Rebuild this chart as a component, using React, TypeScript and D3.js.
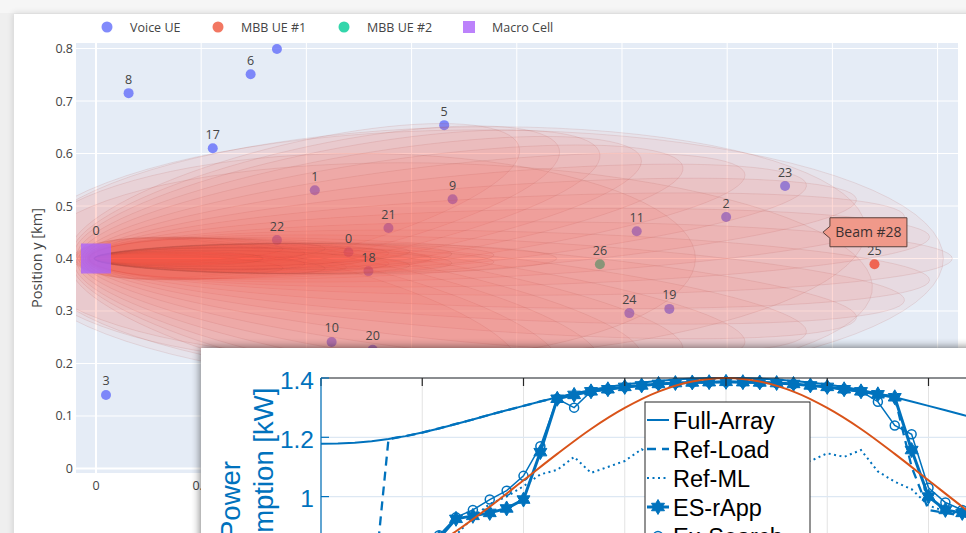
import React from 'react';
import * as d3 from 'd3';

const W = 966;
const H = 533;

// ---------- upper chart (UE positions, km) ----------
const voiceIds = ['8', '6', '4', '17', '1', '5', '9', '21', '22', '0', '18', '11', '2', '23', '24', '19', '10', '20', '3'];
const voiceX = [0.031, 0.147, 0.172, 0.111, 0.208, 0.331, 0.339, 0.278, 0.172, 0.24, 0.259, 0.514, 0.599, 0.655, 0.507, 0.545, 0.224, 0.263, 0.0095];
const voiceY = [0.715, 0.751, 0.799, 0.61, 0.53, 0.654, 0.513, 0.458, 0.435, 0.412, 0.376, 0.452, 0.479, 0.538, 0.296, 0.304, 0.241, 0.226, 0.14];
const mbb1Ids = ['25'];
const mbb1X = [0.74];
const mbb1Y = [0.389];
const mbb2Ids = ['26'];
const mbb2X = [0.479];
const mbb2Y = [0.389];
const cellIds = ['0'];
const cellX = [0];
const cellY = [0.4];

const xTicks = [0, 0.1, 0.2, 0.3, 0.4, 0.5, 0.6, 0.7, 0.8];
const yTicks = [0, 0.1, 0.2, 0.3, 0.4, 0.5, 0.6, 0.7, 0.8];
const legendNames = ['Voice UE', 'MBB UE #1', 'MBB UE #2', 'Macro Cell'];

// beams: steering angle (deg), semi-major and semi-minor axis (km), cell at focus
const beamAngle = [30, 27, 24, 21, 18, 15, 12, 9, 6, 3, 0, -3, -6, -9, -12, -15, -18, -21, -24, -27, -30,
  0, 5, -5, 0,
  0, 2, -2, 4, -4, 1, -1, 0, 3, -3, 6, -6, 0, 1.5, -1.5, 5, -5, 0, 2.5, -2.5];
const beamMajor = [0.24, 0.255, 0.27, 0.285, 0.3, 0.325, 0.35, 0.37, 0.39, 0.4, 0.41, 0.4, 0.39, 0.37, 0.35, 0.325, 0.3, 0.285, 0.27, 0.255, 0.24,
  0.44, 0.4, 0.4, 0.32,
  0.16, 0.14, 0.14, 0.12, 0.12, 0.19, 0.19, 0.22, 0.1, 0.1, 0.09, 0.09, 0.13, 0.17, 0.17, 0.11, 0.11, 0.08, 0.15, 0.15];
const beamMinor = [0.1, 0.1, 0.1, 0.097, 0.093, 0.088, 0.083, 0.078, 0.075, 0.072, 0.07, 0.072, 0.075, 0.078, 0.083, 0.088, 0.093, 0.097, 0.1, 0.1, 0.1,
  0.245, 0.22, 0.21, 0.2,
  0.022, 0.02, 0.02, 0.018, 0.018, 0.025, 0.025, 0.03, 0.016, 0.016, 0.015, 0.015, 0.02, 0.024, 0.024, 0.017, 0.017, 0.014, 0.021, 0.021];
const hoverText = 'Beam #28';
const hoverX = 0.691;
const hoverY = 0.45;

// ---------- lower chart (power over the day) ----------
const halfHours = [0, 0.5, 1, 1.5, 2, 2.5, 3, 3.5, 4, 4.5, 5, 5.5, 6, 6.5, 7, 7.5, 8, 8.5, 9, 9.5, 10, 10.5, 11, 11.5, 12,
  12.5, 13, 13.5, 14, 14.5, 15, 15.5, 16, 16.5, 17, 17.5, 18, 18.5, 19, 19.5, 20, 20.5, 21, 21.5, 22, 22.5, 23, 23.5, 24];
const fullArray = [1.178, 1.179, 1.182, 1.187, 1.194, 1.204, 1.216, 1.23, 1.245, 1.26, 1.276, 1.291, 1.306, 1.321, 1.335, 1.348, 1.36, 1.37, 1.378, 1.385, 1.39, 1.395, 1.398, 1.4, 1.4,
  1.4, 1.398, 1.395, 1.39, 1.385, 1.378, 1.37, 1.36, 1.348, 1.335, 1.321, 1.306, 1.291, 1.276, 1.26, 1.245, 1.23, 1.216, 1.204, 1.194, 1.187, 1.182, 1.179, 1.178];
const refLoad = [0.62, 0.62, 0.62, 0.62, 1.194, 1.204, 1.216, 1.23, 1.245, 1.26, 1.276, 1.291, 1.306, 1.321, 1.335, 1.345, 1.355, 1.362, 1.37, 1.375, 1.38, 1.383, 1.385, 1.386, 1.387,
  1.386, 1.385, 1.383, 1.38, 1.375, 1.37, 1.362, 1.355, 1.345, 1.335, 1.1, 0.955, 0.945, 0.935, 0.92, 0.88, 0.8, 0.72, 0.66, 0.63, 0.62, 0.62, 0.62, 0.62];
const refML = [0.62, 0.62, 0.62, 0.62, 0.63, 0.66, 0.72, 0.8, 0.87, 0.93, 0.975, 1.0, 1.035, 1.075, 1.09, 1.134, 1.08, 1.1, 1.12, 1.16, 1.12, 1.13, 1.14, 1.12, 1.13,
  1.145, 1.12, 1.13, 1.11, 1.12, 1.146, 1.134, 1.157, 1.085, 1.05, 1.025, 0.97, 0.95, 0.94, 0.93, 0.9, 0.85, 0.78, 0.7, 0.66, 0.63, 0.62, 0.62, 0.62];
const esRApp = [0.62, 0.62, 0.62, 0.62, 0.63, 0.66, 0.74, 0.86, 0.925, 0.935, 0.945, 0.96, 0.99, 1.15, 1.33, 1.343, 1.355, 1.362, 1.37, 1.375, 1.38, 1.383, 1.385, 1.386, 1.387,
  1.386, 1.385, 1.383, 1.38, 1.375, 1.37, 1.362, 1.355, 1.345, 1.335, 1.157, 1.0, 0.955, 0.945, 0.935, 0.92, 0.88, 0.8, 0.72, 0.66, 0.63, 0.62, 0.62, 0.62];
const exSearch = [0.62, 0.62, 0.62, 0.62, 0.63, 0.66, 0.74, 0.87, 0.93, 0.955, 0.99, 1.02, 1.07, 1.17, 1.33, 1.3, 1.355, 1.362, 1.37, 1.375, 1.38, 1.383, 1.385, 1.386, 1.387,
  1.386, 1.385, 1.383, 1.38, 1.375, 1.37, 1.362, 1.355, 1.32, 1.24, 1.21, 1.03, 0.98, 0.955, 0.94, 0.92, 0.88, 0.8, 0.72, 0.66, 0.63, 0.62, 0.62, 0.62];
const hours = [0, 1, 2, 3, 4, 5, 6, 7, 8, 9, 10, 11, 12, 13, 14, 15, 16, 17, 18, 19, 20, 21, 22, 23, 24];
const traffic = [0.71, 0.722, 0.756, 0.811, 0.883, 0.966, 1.055, 1.144, 1.228, 1.299, 1.354, 1.388, 1.4,
  1.388, 1.354, 1.299, 1.228, 1.144, 1.055, 0.966, 0.883, 0.811, 0.756, 0.722, 0.71];
const hourTicks = [0, 3, 6, 9, 12, 15, 18, 21, 24];
const powerTicks = [1.4, 1.2, 1, 0.8];
const seriesNames = ['Full-Array', 'Ref-Load', 'Ref-ML', 'ES-rApp', 'Ex-Search'];

const BLUE = '#0072BD';
const ORANGE = '#D95319';
const PLOTLY_FONT = '"Open Sans", verdana, arial, sans-serif';
const MATLAB_FONT = '"Liberation Sans", Arial, Helvetica, sans-serif';

const hexagram: d3.SymbolType = {
  draw(ctx, size) {
    const r = Math.sqrt(size);
    const ri = r / Math.sqrt(3);
    for (let k = 0; k < 12; k++) {
      const a = -Math.PI / 2 + (k * Math.PI) / 6;
      const rr = k % 2 === 0 ? r : ri;
      if (k === 0) ctx.moveTo(rr * Math.cos(a), rr * Math.sin(a));
      else ctx.lineTo(rr * Math.cos(a), rr * Math.sin(a));
    }
    ctx.closePath();
  },
};

export default function App() {
  // upper chart scales
  const x = d3.scaleLinear().domain([-0.019, 0.8194]).range([76, 958]);
  const y = d3.scaleLinear().domain([-0.0086, 0.8105]).range([473, 43]);

  const beamPath = (i: number) => {
    const th = (beamAngle[i] * Math.PI) / 180;
    const a = beamMajor[i];
    const b = beamMinor[i];
    const c = Math.sqrt(a * a - b * b);
    const pts = d3.range(0, 360, 4).map((deg) => {
      const u = (deg * Math.PI) / 180;
      const ex = c + a * Math.cos(u);
      const ey = b * Math.sin(u);
      return [cellX[0] + ex * Math.cos(th) - ey * Math.sin(th), cellY[0] + ex * Math.sin(th) + ey * Math.cos(th)] as [number, number];
    });
    return d3.line<[number, number]>().x((p) => x(p[0])).y((p) => y(p[1])).curve(d3.curveLinearClosed)(pts) || '';
  };

  // lower chart scales
  const tx = d3.scaleLinear().domain([0, 24]).range([321, 1131]);
  const py = d3.scaleLinear().domain([0.6, 1.4]).range([615.2, 378]);
  const powerLine = (vals: number[], ts: number[], curve = d3.curveLinear) =>
    d3.line<number>().x((_, i) => tx(ts[i])).y((v) => py(v)).curve(curve)(vals) || '';
  const star = d3.symbol().type(hexagram).size(56)() || '';

  const hx = x(hoverX);
  const hy = y(hoverY);
  const hoverShape = `M${hx},${hy} L${hx + 7},${hy - 6} V${hy - 14.5} H${hx + 84} V${hy + 14.5} H${hx + 7} V${hy + 6} Z`;

  const legendX = [107, 218, 344, 469];
  const legendColors = ['#636efa', '#EF553B', '#00cc96', '#ab63fa'];
  const mLegY = [420, 449, 478, 507, 536];

  // labels that would sit above the plot area are clipped away, as in plotly
  const labelVisible = (py0: number) => py0 - 20 > 43;

  return (
    <svg width={W} height={H} style={{ position: 'fixed', left: 0, top: 0 }}>
      <defs>
        <clipPath id="plotArea">
          <rect x={76} y={43} width={882} height={430} />
        </clipPath>
        <clipPath id="matBox">
          <rect x={201} y={348} width={W - 201} height={H - 348} />
        </clipPath>
        <clipPath id="matAxes">
          <rect x={321} y={372} width={W - 321} height={H - 372} />
        </clipPath>
        <filter id="cardShadow" x="-10%" y="-10%" width="120%" height="120%">
          <feGaussianBlur stdDeviation={3} />
        </filter>
        <filter id="boxShadow" x="-20%" y="-40%" width="140%" height="180%">
          <feGaussianBlur stdDeviation={5} />
        </filter>
      </defs>

      {/* page + card */}
      <rect x={0} y={0} width={W} height={H} fill="#efefef" />
      <rect x={0} y={0} width={W} height={13} fill="#f6f6f6" />
      <rect x={13} y={13} width={W} height={H} fill="#000" opacity={0.12} filter="url(#cardShadow)" />
      <rect x={14} y={14} width={W} height={H} fill="#fff" />

      {/* plotly plot area */}
      <rect x={76} y={43} width={882} height={430} fill="#e5ecf6" />
      {xTicks.map((t) => (
        <line key={'gx' + t} x1={x(t)} x2={x(t)} y1={43} y2={473} stroke="#fff" strokeWidth={t === 0 ? 2 : 1} />
      ))}
      {yTicks.map((t) => (
        <line key={'gy' + t} x1={76} x2={958} y1={y(t)} y2={y(t)} stroke="#fff" strokeWidth={t === 0 ? 2 : 1} />
      ))}
      {yTicks.map((t) => (
        <text key={'ty' + t} x={73} y={y(t) + 4.5} textAnchor="end" fontFamily={PLOTLY_FONT} fontSize={12.5} fill="#444">
          {String(t)}
        </text>
      ))}
      {xTicks
        .filter((t) => x(t) - 8 < 201)
        .map((t) => (
          <text key={'tx' + t} x={x(t)} y={490} textAnchor="middle" fontFamily={PLOTLY_FONT} fontSize={12.5} fill="#444">
            {String(t)}
          </text>
        ))}
      <text transform={`translate(42,${(43 + 473) / 2}) rotate(-90)`} textAnchor="middle" fontFamily={PLOTLY_FONT} fontSize={14.5} fill="#444">
        Position y [km]
      </text>

      {/* legend */}
      {legendNames.map((n, i) => (
        <g key={n}>
          {i < 3 ? (
            <circle cx={legendX[i]} cy={27} r={5.5} fill={legendColors[i]} opacity={0.8} />
          ) : (
            <rect x={legendX[i] - 6} y={21} width={12} height={12} fill={legendColors[i]} opacity={0.8} />
          )}
          <text x={legendX[i] + 23} y={31.5} fontFamily={PLOTLY_FONT} fontSize={12.5} fill="#444">
            {n}
          </text>
        </g>
      ))}

      <g clipPath="url(#plotArea)">
        {/* markers */}
        {voiceX.map((v, i) => (
          <circle key={'v' + i} cx={x(v)} cy={y(voiceY[i])} r={5} fill="#636efa" opacity={0.8} />
        ))}
        {mbb1X.map((v, i) => (
          <circle key={'m1' + i} cx={x(v)} cy={y(mbb1Y[i])} r={5} fill="#EF553B" opacity={0.85} />
        ))}
        {mbb2X.map((v, i) => (
          <circle key={'m2' + i} cx={x(v)} cy={y(mbb2Y[i])} r={5} fill="#00cc96" opacity={0.8} />
        ))}

        {/* beams */}
        {beamAngle.map((_, i) => (
          <path key={'b' + i} d={beamPath(i)} fill="#ff5a45" fillOpacity={0.06} stroke="#b04a44" strokeOpacity={0.17} strokeWidth={0.8} />
        ))}

        {/* macro cell on top of the beams */}
        {cellX.map((v, i) => (
          <rect key={'c' + i} x={x(v) - 15} y={y(cellY[i]) - 15} width={30} height={30} fill="#ab63fa" opacity={0.8} />
        ))}

        {/* labels */}
        {voiceIds.map((id, i) =>
          labelVisible(y(voiceY[i])) ? (
            <text key={'lv' + i} x={x(voiceX[i])} y={y(voiceY[i]) - 9.5} textAnchor="middle" fontFamily={PLOTLY_FONT} fontSize={12.5} fill="#444">
              {id}
            </text>
          ) : null
        )}
        {mbb1Ids.map((id, i) => (
          <text key={'l1' + i} x={x(mbb1X[i])} y={y(mbb1Y[i]) - 9.5} textAnchor="middle" fontFamily={PLOTLY_FONT} fontSize={12.5} fill="#444">
            {id}
          </text>
        ))}
        {mbb2Ids.map((id, i) => (
          <text key={'l2' + i} x={x(mbb2X[i])} y={y(mbb2Y[i]) - 9.5} textAnchor="middle" fontFamily={PLOTLY_FONT} fontSize={12.5} fill="#444">
            {id}
          </text>
        ))}
        {cellIds.map((id, i) => (
          <text key={'lc' + i} x={x(cellX[i])} y={y(cellY[i]) - 23} textAnchor="middle" fontFamily={PLOTLY_FONT} fontSize={12.5} fill="#444">
            {id}
          </text>
        ))}
      </g>

      {/* hover label */}
      <path d={hoverShape} fill="#f0998a" stroke="#5a403c" strokeWidth={1} />
      <text x={hx + 45.5} y={hy + 5} textAnchor="middle" fontFamily={PLOTLY_FONT} fontSize={14} fill="#3c3030">
        {hoverText}
      </text>

      {/* ---------- overlaid MATLAB figure ---------- */}
      <rect x={201} y={348} width={900} height={300} fill="#000" opacity={0.6} filter="url(#boxShadow)" />
      <rect x={201} y={348} width={900} height={300} fill="#fff" />
      <g clipPath="url(#matBox)">
        {hourTicks.map((t) => (
          <line key={'mgx' + t} x1={tx(t)} x2={tx(t)} y1={378} y2={H} stroke="#e3e3e3" strokeWidth={1} />
        ))}
        {powerTicks.map((t) => (
          <line key={'mgy' + t} x1={321} x2={W} y1={py(t)} y2={py(t)} stroke="#dde8f3" strokeWidth={1.2} />
        ))}

        <g clipPath="url(#matAxes)">
          <path d={powerLine(fullArray, halfHours)} fill="none" stroke={BLUE} strokeWidth={2} />
          <path d={powerLine(refLoad, halfHours)} fill="none" stroke={BLUE} strokeWidth={2.3} strokeDasharray="9 6" />
          <path d={powerLine(refML, halfHours)} fill="none" stroke={BLUE} strokeWidth={2} strokeDasharray="2 3.5" />
          <path d={powerLine(esRApp, halfHours)} fill="none" stroke={BLUE} strokeWidth={3} />
          {esRApp.map((v, i) => (
            <path key={'st' + i} d={star} transform={`translate(${tx(halfHours[i])},${py(v)})`} fill={BLUE} stroke={BLUE} strokeWidth={1} />
          ))}
          <path d={powerLine(exSearch, halfHours)} fill="none" stroke={BLUE} strokeWidth={1.5} />
          {exSearch.map((v, i) => (
            <circle key={'ci' + i} cx={tx(halfHours[i])} cy={py(v)} r={4.5} fill="none" stroke={BLUE} strokeWidth={1.5} />
          ))}
          <path d={powerLine(traffic, hours, d3.curveCatmullRom)} fill="none" stroke={ORANGE} strokeWidth={2} />
        </g>

        {/* axes */}
        <line x1={321} x2={W} y1={378} y2={378} stroke="#262626" strokeWidth={1} />
        {hourTicks.map((t) => (
          <line key={'mtx' + t} x1={tx(t)} x2={tx(t)} y1={378} y2={386} stroke="#262626" strokeWidth={1.2} />
        ))}
        <line x1={321} x2={321} y1={378} y2={H} stroke={BLUE} strokeWidth={1.2} />
        {powerTicks.map((t) => (
          <line key={'mty' + t} x1={321} x2={329} y1={py(t)} y2={py(t)} stroke={BLUE} strokeWidth={1.2} />
        ))}
        {powerTicks.map((t) => (
          <text key={'mtl' + t} x={314} y={py(t) + 10.5} textAnchor="end" fontFamily={MATLAB_FONT} fontSize={24.5} fill={BLUE}>
            {String(t)}
          </text>
        ))}
        <text transform="translate(240,500) rotate(-90)" textAnchor="middle" fontFamily={MATLAB_FONT} fontSize={27.5} fill={BLUE}>
          Power
        </text>
        <text transform="translate(272.5,500) rotate(-90)" textAnchor="middle" fontFamily={MATLAB_FONT} fontSize={27.5} fill={BLUE}>
          Consumption [kW]
        </text>

        {/* legend */}
        <rect x={645} y={402} width={165} height={200} fill="#fff" stroke="#262626" strokeWidth={1} />
        {seriesNames.map((n, i) => (
          <g key={n}>
            <line
              x1={647}
              x2={669}
              y1={mLegY[i]}
              y2={mLegY[i]}
              stroke={BLUE}
              strokeWidth={i === 3 ? 3 : i === 1 ? 2.3 : i === 4 ? 1.5 : 2}
              strokeDasharray={i === 1 ? '9 6' : i === 2 ? '2 3.5' : undefined}
            />
            {i === 3 && <path d={star} transform={`translate(658,${mLegY[i]})`} fill={BLUE} stroke={BLUE} />}
            {i === 4 && <circle cx={658} cy={mLegY[i]} r={4.5} fill="#fff" stroke={BLUE} strokeWidth={1.5} />}
            <text x={673} y={mLegY[i] + 8.5} fontFamily={MATLAB_FONT} fontSize={23.5} fill="#000">
              {n}
            </text>
          </g>
        ))}
      </g>
    </svg>
  );
}
